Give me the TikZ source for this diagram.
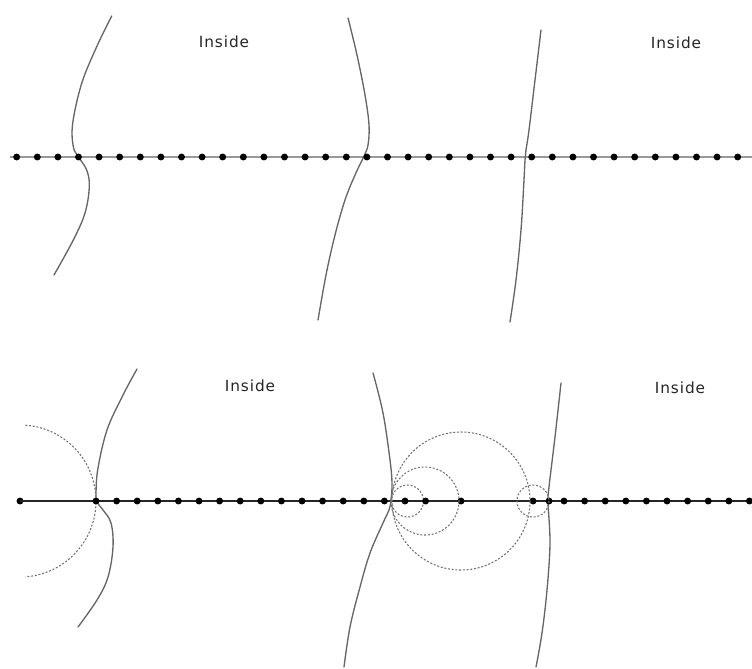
\documentclass[tikz,border=0pt]{standalone}
\usepackage{fontspec}
\usepackage{xcolor}
\usepackage{tikz}
\newfontfamily\lblfont[LetterSpace=6]{DejaVu Sans}

\begin{document}
\begin{tikzpicture}[
		x=0.75pt, y=-0.75pt,
		samp/.style={
			circle,
			fill=black,
			inner sep=0pt,
			minimum size=5.2pt
		},
		gridline/.style={draw=black!40, line width=2.2pt},
		thinline/.style={draw=black!85, line width=0.8pt},
		front/.style={draw=black!60, line width=1pt, line cap=round},
		probe/.style={draw=black!55, line width=0.8pt, dash pattern=on 1.5pt off 1.3pt},
		label/.style={font=\lblfont\fontsize{11.5}{13}\selectfont, text=black!85}
		]
		
		\useasboundingbox (0,0) rectangle (752,668);
		
		% Top: sample line
		\coordinate (tl) at (10,157);
		\coordinate (tr) at (752,157);
		\draw[gridline] (tl) -- (tr);
		
		% Top: fronts
		\draw[front] plot[smooth, tension=0.6] coordinates {
			(111.7,16) (96.7,46.7) (81.7,83.3) (72.7,123.3) (73.3,146.7)
			(78.3,156.7) (86.7,170) (89.3,186.7) (85,213) (73.3,240) (54,275)};
		\draw[front] plot[smooth, tension=0.6] coordinates {
			(348,18) (357,55) (365,95) (369,125) (368,145) (364,156)
			(355,175) (345,200) (335,235) (326,275) (318,320)};
		\draw[front] plot[smooth, tension=0.6] coordinates {
			(541,30) (535,80) (529,130) (526,150) (525,160) (524,180)
			(521,230) (516,280) (510,322)};
		
		% Top: samples
		\foreach \i in {0,...,35}
			\node[samp] (t\i) at ({16.7+20.6*\i},157) {};
		
		\node[label] (in1) at (224,42) {Inside};
		\node[label] (in2) at (676,43) {Inside};
		
		% Bottom: sample line
		\coordinate (br) at (752,501);
		\node[samp] (b0) at (20,501) {};
		\draw[thinline] (b0.center) -- (br);
		
		% Bottom: fronts
		\draw[front] plot[smooth, tension=0.6] coordinates {
			(137,369) (122,397) (107,430) (98,468) (96,493) (97,502)
			(103,510) (111,523) (113,547) (108,577) (97,600) (78,627)};
		\draw[front] plot[smooth, tension=0.6] coordinates {
			(373,373) (383,413) (390,460) (392,483) (391,500) (389,510)
			(383,523) (370,553) (360,587) (350,627) (344,667)};
		\draw[front] plot[smooth, tension=0.6] coordinates {
			(561,383) (555,437) (549,487) (548,502) (550,543)
			(547,590) (542,633) (536,667)};
		
		% Bottom: search circles
		\draw[probe] ([shift={(-86:76)}]b0.center) arc[start angle=-86, end angle=86, radius=76];
		\node[samp] (c1) at (461,501) {};
		\node[samp] (c2) at (533,501) {};
		\node[samp] (c3) at (549,501) {};
		\draw[probe] (c1.center) circle[radius=69];
		\draw[probe] (425,501) circle[radius=34];
		\draw[probe] (407.5,501) circle[radius=16];
		\draw[probe] (c2.center) circle[radius=16];
		
		% Bottom: samples
		\foreach \i in {0,...,16}
			\node[samp] (l\i) at ({96+20.6*\i},501) {};
		\foreach \i in {0,...,9}
			\node[samp] (r\i) at ({564+20.6*\i},501) {};
		
		\node[label] (in3) at (250,386) {Inside};
		\node[label] (in4) at (680,388) {Inside};
		
	\end{tikzpicture}
\end{document}
